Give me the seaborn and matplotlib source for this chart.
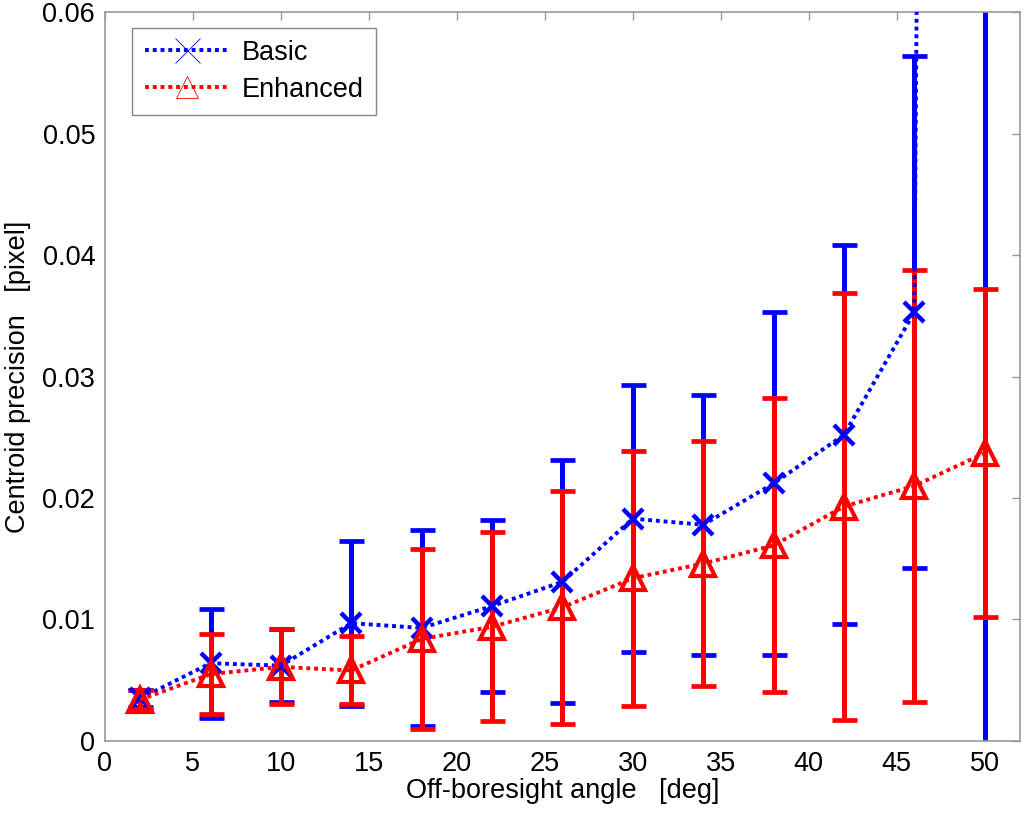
import numpy as np
import pandas as pd
import seaborn as sns
from matplotlib import pyplot as plt
from matplotlib.lines import Line2D
from matplotlib.ticker import FuncFormatter

# off-boresight angle [deg]
angles = [2, 6, 10, 14, 18, 22, 26, 30, 34, 38, 42, 46, 50]

# basic centroiding: mean and std of precision [pixel]
basic_mean = [0.0035, 0.0064, 0.0062, 0.0097, 0.0093, 0.0111, 0.0131, 0.0183,
              0.0178, 0.0212, 0.0252, 0.0353, 0.80]
basic_std = [0.0007, 0.0045, 0.0030, 0.0068, 0.0081, 0.0071, 0.0100, 0.0110,
             0.0107, 0.0141, 0.0156, 0.0211, 0.85]

# enhanced centroiding
enh_mean = [0.0034, 0.0055, 0.0061, 0.0058, 0.0084, 0.0094, 0.0110, 0.0134,
            0.0146, 0.0161, 0.0193, 0.0210, 0.0237]
enh_std = [0.0008, 0.0033, 0.0031, 0.0028, 0.0074, 0.0078, 0.0096, 0.0105,
           0.0101, 0.0121, 0.0176, 0.0178, 0.0135]

df = pd.DataFrame({'angle': angles * 2,
                   'precision': basic_mean + enh_mean,
                   'std': basic_std + enh_std,
                   'method': ['Basic'] * len(angles) + ['Enhanced'] * len(angles)})

sns.set_style('white')
plt.rcParams['font.family'] = ['Liberation Sans', 'DejaVu Sans']
plt.rcParams['text.color'] = 'black'
plt.rcParams['axes.labelcolor'] = 'black'
plt.rcParams['xtick.labelcolor'] = 'black'
plt.rcParams['ytick.labelcolor'] = 'black'

fig = plt.figure(figsize=(10.24, 8.16), dpi=100)
ax = fig.add_axes([0.1025, 0.092, 0.8935, 0.893])

styles = {'Basic': dict(color='#0000ff', marker='x', ms=15, mew=3.2, mfc='none'),
          'Enhanced': dict(color='#ff0000', marker='^', ms=17, mew=3.0, mfc='none')}

for name in ['Basic', 'Enhanced']:
    sub = df[df['method'] == name]
    st = styles[name]
    ax.errorbar(sub['angle'], sub['precision'], yerr=sub['std'], fmt='none',
                ecolor=st['color'], elinewidth=3.6, capsize=9, capthick=3.4, zorder=2)
    sns.lineplot(data=sub, x='angle', y='precision', ax=ax, color=st['color'],
                 linestyle=(0, (1, 1)), linewidth=2.8, marker=st['marker'],
                 markersize=st['ms'], markeredgewidth=st['mew'],
                 markerfacecolor=st['mfc'], markeredgecolor=st['color'],
                 zorder=3, legend=False)

ax.set_xlim(0, 52)
ax.set_ylim(0, 0.06)
ax.set_xticks(np.arange(0, 51, 5))
ax.set_yticks(np.arange(0, 0.061, 0.01))
ax.yaxis.set_major_formatter(FuncFormatter(lambda v, p: '%g' % round(v, 3)))
ax.tick_params(direction='in', length=6, width=1, color='#999999',
               labelcolor='black', top=True, right=True, labelsize=19.5, pad=7)
for sp in ax.spines.values():
    sp.set_color('#999999')
    sp.set_linewidth(1.2)

ax.set_xlabel('Off-boresight angle   [deg]', fontsize=19.5, labelpad=1, color='black')
ax.set_ylabel('Centroid precision   [pixel]', fontsize=19.5, labelpad=8, color='black')

handles = [Line2D([], [], color='#0000ff', linestyle=(0, (1, 1)), linewidth=2.8,
                  marker='x', ms=18, mew=0.6),
           Line2D([], [], color='#ff0000', linestyle=(0, (1, 1)), linewidth=2.8,
                  marker='^', ms=16, mew=0.6, mfc='none')]
leg = ax.legend(handles, ['Basic', 'Enhanced'], loc='upper left',
                bbox_to_anchor=(0.03, 0.979), fontsize=19.5, fancybox=False,
                framealpha=1, edgecolor='#888888', handlelength=3.1,
                borderpad=0.45, labelspacing=0.4, handletextpad=0.5,
                borderaxespad=0)
leg.get_frame().set_linewidth(1.0)
for t in leg.get_texts():
    t.set_color('black')

fig.savefig('out.png', dpi=100)
